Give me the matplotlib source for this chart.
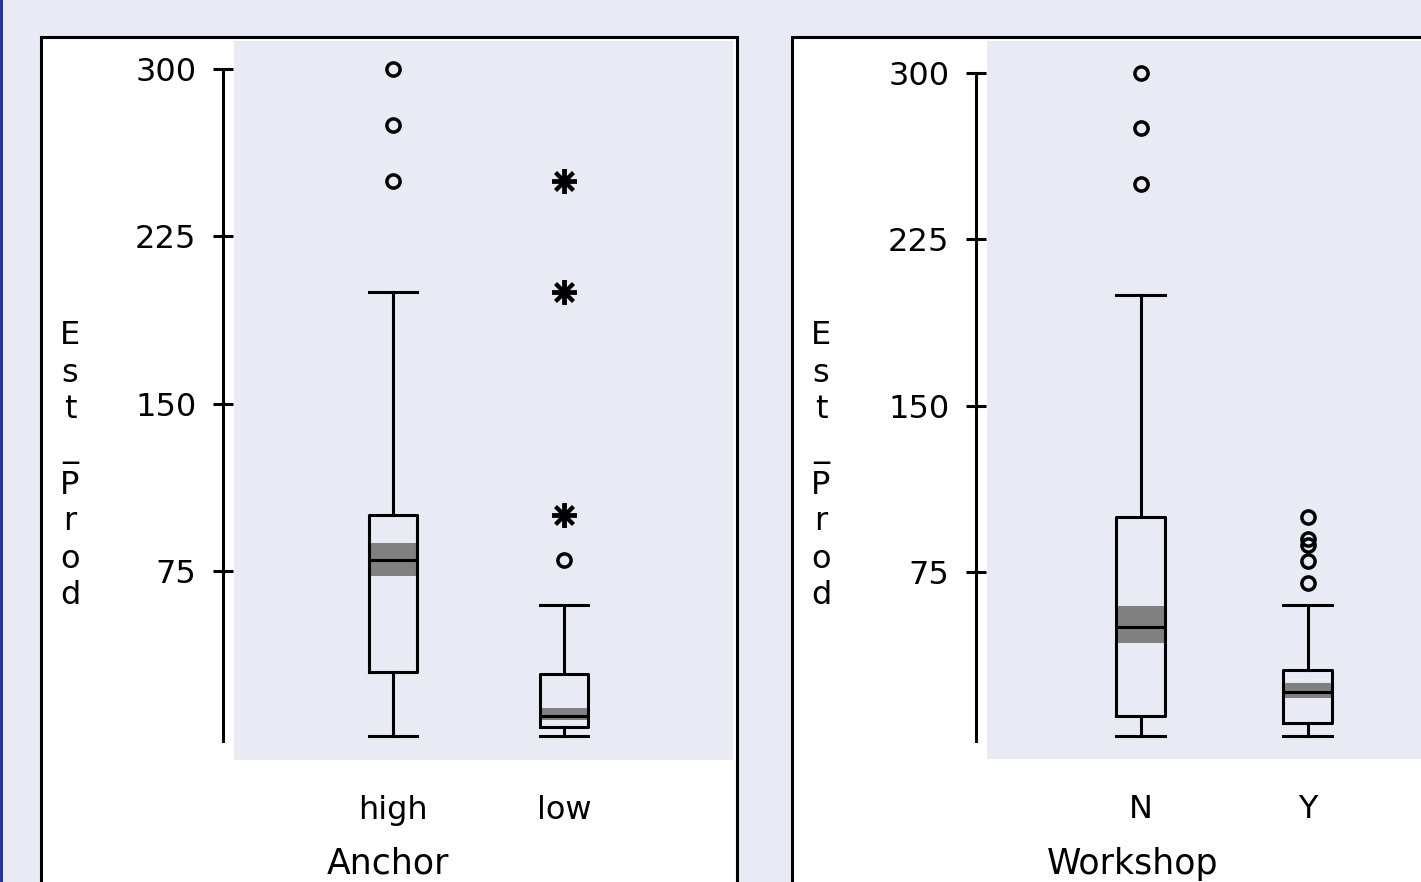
import matplotlib
matplotlib.use('Agg')
from matplotlib import pyplot as plt
from matplotlib.patches import Rectangle

W, H = 1421, 882
BG = '#e8ebf3'
BAND = '#808080'
FS = 23

# Anchor panel
anchor_labels = ['high', 'low']
anchor_q1 = [30, 5]
anchor_med = [80, 10]
anchor_q3 = [100, 29]
anchor_whislo = [1, 1]
anchor_whishi = [200, 60]
anchor_ci_lo = [72.7, 8.5]
anchor_ci_hi = [87.5, 13.7]
anchor_outliers = [[250, 275, 300], [80]]
anchor_extremes = [[], [100, 200, 250]]

# Workshop panel
workshop_labels = ['N', 'Y']
workshop_q1 = [10, 7]
workshop_med = [50, 21]
workshop_q3 = [100, 31]
workshop_whislo = [1, 1]
workshop_whishi = [200, 60]
workshop_ci_lo = [42.8, 18]
workshop_ci_hi = [59.6, 25]
workshop_outliers = [[250, 275, 300], [70, 80, 87, 90, 100]]
workshop_extremes = [[], []]

yticks = [75, 150, 225, 300]


def px_rect(x0, y0, x1, y1):
    """pixel box (top-left origin) -> figure fraction rect"""
    return [x0 / W, 1 - y1 / H, (x1 - x0) / W, (y1 - y0) / H]


def draw_panel(fig, rect, frame, labels, q1, med, q3, lo, hi, ci_lo, ci_hi,
               outliers, extremes, xlim, ylim, width, xlabel, xlab_pos, ylab_pos):
    fx, fy, fw, fh = px_rect(*frame)
    fig.patches.append(Rectangle((fx, fy), fw, fh, transform=fig.transFigure,
                                 facecolor='white', edgecolor='black',
                                 linewidth=2.2, zorder=-5))
    ax = fig.add_axes(px_rect(*rect))
    ax.set_facecolor(BG)
    pos = list(range(1, len(labels) + 1))

    ax.bar(pos, [h - l for l, h in zip(ci_lo, ci_hi)], bottom=ci_lo,
           width=width, color=BAND, zorder=2)
    stats = [dict(q1=a, med=m, q3=b, whislo=l, whishi=h, fliers=[])
             for a, m, b, l, h in zip(q1, med, q3, lo, hi)]
    lp = dict(color='black', linewidth=2.2)
    ax.bxp(stats, positions=pos, widths=width, capwidths=width,
           showfliers=False, boxprops=lp, whiskerprops=lp, capprops=lp,
           medianprops=lp, zorder=3)
    for p, vals in zip(pos, outliers):
        ax.plot([p] * len(vals), vals, 'o', ms=9.5, mfc='none', mec='black',
                mew=2.5, zorder=4)
    for p, vals in zip(pos, extremes):
        ax.plot([p] * len(vals), vals, marker=(8, 2, 0), ls='none', ms=18,
                mec='black', mew=2.8, zorder=4)

    ax.set_xlim(*xlim)
    ax.set_ylim(*ylim)
    ax.set_xticks(pos)
    ax.set_xticklabels(labels)
    ax.set_yticks(yticks)
    ax.tick_params(axis='x', length=0, pad=25, labelsize=FS)
    ax.tick_params(axis='y', direction='inout', length=14.4, width=2.2,
                   pad=12, labelsize=FS)
    for s in ['top', 'right', 'bottom']:
        ax.spines[s].set_visible(False)
    ax.spines['left'].set_position(('outward', 8))
    ax.spines['left'].set_linewidth(2.2)
    ax.spines['left'].set_bounds(-1, 300)

    fig.text(xlab_pos[0] / W, 1 - xlab_pos[1] / H, xlabel, fontsize=25,
             ha='center', va='center')
    fig.text(ylab_pos[0] / W, 1 - ylab_pos[1] / H, '\n'.join('Est_Prod'),
             fontsize=FS, ha='center', va='center', linespacing=1.25)
    return ax


fig = plt.figure(figsize=(W / 100, H / 100), dpi=100, facecolor=BG)
fig.patches.append(Rectangle((0, 0), 3 / W, 1, transform=fig.transFigure,
                             facecolor='#2a3590', edgecolor='none'))

draw_panel(fig, (234, 41, 733, 760), (41, 37, 737, 900),
           anchor_labels, anchor_q1, anchor_med, anchor_q3, anchor_whislo,
           anchor_whishi, anchor_ci_lo, anchor_ci_hi, anchor_outliers,
           anchor_extremes, (0.070, 2.988), (-9.6, 312.5), 0.281,
           'Anchor', (388, 864), (70, 466))

draw_panel(fig, (987, 41, 1421, 759), (792, 37, 1440, 900),
           workshop_labels, workshop_q1, workshop_med, workshop_q3,
           workshop_whislo, workshop_whishi, workshop_ci_lo, workshop_ci_hi,
           workshop_outliers, workshop_extremes, (0.078, 2.677),
           (-9.3, 314.4), 0.293, 'Workshop', (1133, 864), (821, 466))

fig.savefig('out.png', dpi=100, facecolor=BG)
